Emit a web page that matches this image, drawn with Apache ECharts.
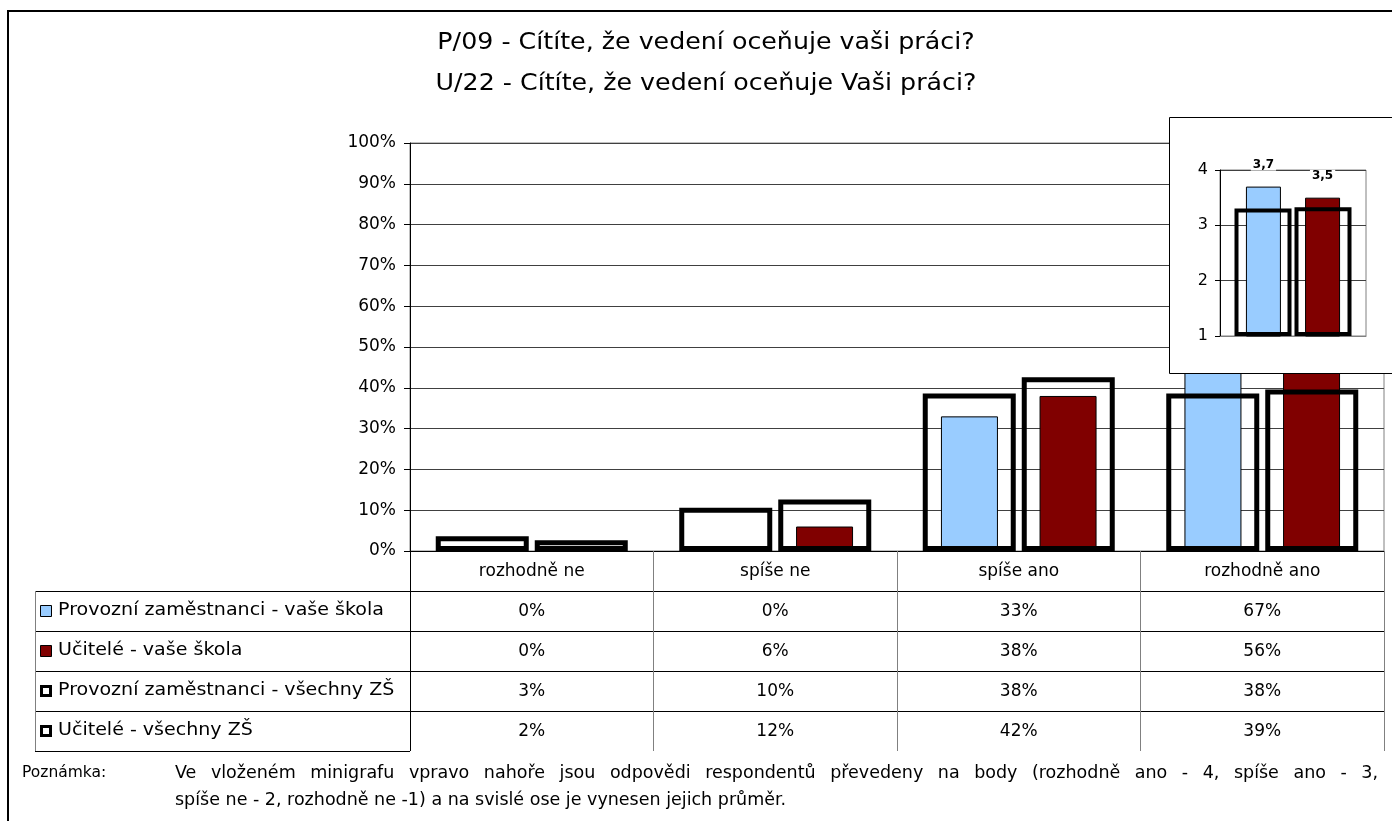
<!DOCTYPE html>
<html><head><meta charset="utf-8">
<script src="https://cdn.jsdelivr.net/npm/echarts@6/dist/echarts.min.js"></script>
<style>html,body{margin:0;padding:0;background:#fff}#c{width:1392px;height:821px}</style>
</head><body><div id="c"></div>
<script>
// ---------- data ----------
const titleLines = ['P/09 - Cítíte, že vedení oceňuje vaši práci?', 'U/22 - Cítíte, že vedení oceňuje Vaši práci?'];
const categories = ['rozhodně ne', 'spíše ne', 'spíše ano', 'rozhodně ano'];
const seriesNames = ['Provozní zaměstnanci - vaše škola', 'Učitelé - vaše škola', 'Provozní zaměstnanci - všechny ZŠ', 'Učitelé - všechny ZŠ'];
const provozniSkola = [0, 0, 33, 67];
const uciteleSkola = [0, 6, 38, 56];
const provozniVsechny = [3, 10, 38, 38];
const uciteleVsechny = [2, 12, 42, 39];
const miniSkola = [3.7, 3.5];
const miniVsechny = [3.27, 3.29];
const noteLabel = 'Poznámka:';
const noteLines = [
  'Ve vloženém minigrafu vpravo nahoře jsou odpovědi respondentů převedeny na body (rozhodně ano - 4, spíše ano - 3,',
  'spíše ne - 2, rozhodně ne -1) a na svislé ose je vynesen jejich průměr.'
];
const tableRows = [provozniSkola, uciteleSkola, provozniVsechny, uciteleVsechny];

// ---------- style / layout ----------
const FONT = 'DejaVu Sans';
const BLUE = '#99CCFF', RED = '#800000';
const G = { left: 410, top: 143, width: 974, height: 408 };
const INSET = { left: 1220, top: 170, width: 146, height: 166 };
const ROW = 40;
const gBottom = G.top + G.height;
const legendLeft = 35;

const chart = echarts.init(document.getElementById('c'), null, { renderer: 'canvas' });

const xAxes = [];
xAxes.push({
  gridIndex: 0, type: 'category', data: categories, position: 'bottom',
  axisLine: { lineStyle: { color: '#000', width: 1 } },
  axisTick: { show: true, interval: 0, length: ROW * 5, lineStyle: { color: '#808080' } },
  axisLabel: { fontFamily: FONT, fontSize: 17, color: '#000', margin: 12, interval: 0 },
  splitLine: { show: false }
});
tableRows.forEach((row, k) => {
  xAxes.push({
    gridIndex: 0, type: 'category', data: categories, position: 'bottom', offset: ROW * (k + 1),
    axisLine: { lineStyle: { color: '#000', width: 1 } },
    axisTick: { show: false },
    axisLabel: { fontFamily: FONT, fontSize: 17, color: '#000', margin: 12, interval: 0,
      formatter: (v, i) => row[i] + '%' },
    splitLine: { show: false }
  });
});
// inset x axis (index 5)
xAxes.push({ gridIndex: 1, type: 'category', data: [''], position: 'bottom', z: 12,
  axisLine: { lineStyle: { color: '#808080' } }, axisTick: { show: false }, axisLabel: { show: false } });

const barLabelFmt = p => String(p.value).replace('.', ',');

// outlined bars ("všechny ZŠ"): rectangle with the stroke centred on the value line
function hollowBar(offsetFrac, widthFrac, lw, yMin) {
  return function (params, api) {
    const ci = api.value(0), v = api.value(1);
    const base = api.coord([ci, yMin]);
    const top = api.coord([ci, v]);
    const band = api.size([1, 0])[0];
    const cx = base[0] + offsetFrac * band;
    const w = widthFrac * band;
    const h = Math.max(0, base[1] - lw / 2 - top[1]);
    return {
      type: 'rect', z2: 10,
      shape: { x: cx - w / 2 + lw / 2, y: top[1], width: w - lw, height: h },
      style: { fill: null, stroke: '#000', lineWidth: lw }
    };
  };
}
const toPairs = arr => arr.map((v, i) => [i, v]);

const series = [
  { name: seriesNames[0], type: 'bar', xAxisIndex: 0, yAxisIndex: 0, data: provozniSkola,
    barWidth: 57, barGap: '73%', z: 2,
    itemStyle: { color: BLUE, borderColor: '#000', borderWidth: 1 } },
  { name: seriesNames[1], type: 'bar', xAxisIndex: 0, yAxisIndex: 0, data: uciteleSkola,
    barWidth: 57, barGap: '73%', z: 2,
    itemStyle: { color: RED, borderColor: '#000', borderWidth: 1 } },
  { name: seriesNames[2], type: 'custom', xAxisIndex: 0, yAxisIndex: 0, data: toPairs(provozniVsechny),
    encode: { x: 0, y: 1 }, z: 3, renderItem: hollowBar(-49.5 / 243.5, 93 / 243.5, 5, 0) },
  { name: seriesNames[3], type: 'custom', xAxisIndex: 0, yAxisIndex: 0, data: toPairs(uciteleVsechny),
    encode: { x: 0, y: 1 }, z: 3, renderItem: hollowBar(49.5 / 243.5, 93 / 243.5, 5, 0) },
  // inset (averages)
  { name: seriesNames[0] + ' (průměr)', type: 'bar', xAxisIndex: 5, yAxisIndex: 1, data: [miniSkola[0]],
    barWidth: 35, barGap: '69%', z: 13,
    itemStyle: { color: BLUE, borderColor: '#000', borderWidth: 1 },
    label: { show: true, position: 'top', distance: 16, formatter: barLabelFmt, fontFamily: FONT,
      fontWeight: 'bold', fontSize: 12, color: '#000', backgroundColor: '#fff', padding: [0, 2] } },
  { name: seriesNames[1] + ' (průměr)', type: 'bar', xAxisIndex: 5, yAxisIndex: 1, data: [miniSkola[1]],
    barWidth: 35, barGap: '69%', z: 13,
    itemStyle: { color: RED, borderColor: '#000', borderWidth: 1 },
    label: { show: true, position: 'top', distance: 16, formatter: barLabelFmt, fontFamily: FONT,
      fontWeight: 'bold', fontSize: 12, color: '#000', backgroundColor: '#fff', padding: [0, 2] } },
  { name: seriesNames[2] + ' (průměr)', type: 'custom', xAxisIndex: 5, yAxisIndex: 1, data: [[0, miniVsechny[0]]],
    encode: { x: 0, y: 1 }, z: 14, renderItem: hollowBar(-30 / 146, 57 / 146, 4, 1) },
  { name: seriesNames[3] + ' (průměr)', type: 'custom', xAxisIndex: 5, yAxisIndex: 1, data: [[0, miniVsechny[1]]],
    encode: { x: 0, y: 1 }, z: 14, renderItem: hollowBar(30 / 146, 57 / 146, 4, 1) }
];

// ---------- graphic: frame, title, legend column, note, inset background ----------
const graphic = [];
graphic.push({ type: 'polyline', z: 1, shape: { points: [[8, 821], [8, 11], [1392, 11]] },
  style: { stroke: '#000', lineWidth: 2, fill: null } });
titleLines.forEach((t, i) => graphic.push({ type: 'text', z: 1, x: 706, y: 43 + i * 41, scaleX: 1.1,
  style: { text: t, x: 0, y: 0, align: 'center', verticalAlign: 'middle',
    font: '23px "' + FONT + '"', fill: '#000' } }));
for (let k = 1; k <= 5; k++) {
  graphic.push({ type: 'line', z: 1, shape: { x1: legendLeft, y1: gBottom + ROW * k + 0.5, x2: G.left, y2: gBottom + ROW * k + 0.5 },
    style: { stroke: '#000', lineWidth: 1 } });
}
graphic.push({ type: 'line', z: 1, shape: { x1: legendLeft + 0.5, y1: gBottom + ROW, x2: legendLeft + 0.5, y2: gBottom + ROW * 5 },
  style: { stroke: '#808080', lineWidth: 1 } });
graphic.push({ type: 'line', z: 1, shape: { x1: G.left + 0.5, y1: gBottom, x2: G.left + 0.5, y2: gBottom + ROW * 5 },
  style: { stroke: '#000', lineWidth: 1 } });
const keyStyles = [
  { fill: BLUE, stroke: '#000', lineWidth: 1 },
  { fill: RED, stroke: '#000', lineWidth: 1 },
  { fill: '#fff', stroke: '#000', lineWidth: 3 },
  { fill: '#fff', stroke: '#000', lineWidth: 3 }
];
seriesNames.forEach((n, i) => {
  const cy = gBottom + ROW * (i + 1) + ROW / 2;
  const ks = keyStyles[i];
  const ins = ks.lineWidth / 2;
  graphic.push({ type: 'rect', z: 1, shape: { x: 40 + ins, y: cy - 6 + ins, width: 12 - ks.lineWidth, height: 12 - ks.lineWidth },
    style: ks });
  graphic.push({ type: 'text', z: 1, x: 58, y: cy, scaleX: 1.12,
    style: { text: n, x: 0, y: 0, verticalAlign: 'middle', font: '17px "' + FONT + '"', fill: '#000' } });
});
graphic.push({ type: 'text', z: 1, style: { text: noteLabel, x: 22, y: 773, verticalAlign: 'middle',
  font: '15.5px "' + FONT + '"', fill: '#000' } });
// note: first line justified between x=175 and x=1378, second line left aligned
const noteFont = '17.5px "' + FONT + '"';
const mctx = document.createElement('canvas').getContext('2d');
mctx.font = noteFont;
(function () {
  const words = noteLines[0].split(' ');
  const widths = words.map(w => mctx.measureText(w).width);
  const total = widths.reduce((a, b) => a + b, 0);
  const gap = (1378 - 175 - total) / (words.length - 1);
  let x = 175;
  words.forEach((w, i) => {
    graphic.push({ type: 'text', z: 1, style: { text: w, x: x, y: 773, verticalAlign: 'middle', font: noteFont, fill: '#000' } });
    x += widths[i] + gap;
  });
})();
graphic.push({ type: 'text', z: 1, style: { text: noteLines[1], x: 175, y: 800, verticalAlign: 'middle', font: noteFont, fill: '#000' } });
// inset background box
graphic.push({ type: 'rect', z: 10, shape: { x: 1169.5, y: 117.5, width: 240, height: 256 },
  style: { fill: '#fff', stroke: '#000', lineWidth: 1 } });

const option = {
  animation: false,
  backgroundColor: '#fff',
  textStyle: { fontFamily: FONT },
  grid: [
    { left: G.left, top: G.top, width: G.width, height: G.height, show: true, borderColor: '#808080', borderWidth: 1, z: 0 },
    { left: INSET.left, top: INSET.top, width: INSET.width, height: INSET.height, show: true, borderColor: '#808080', borderWidth: 1, backgroundColor: '#fff', z: 11 }
  ],
  xAxis: xAxes,
  yAxis: [
    { gridIndex: 0, type: 'value', min: 0, max: 100, interval: 10,
      axisLine: { show: true, lineStyle: { color: '#000' } },
      axisTick: { show: true, length: 6, lineStyle: { color: '#000' } },
      splitLine: { lineStyle: { color: '#404040', width: 1 } },
      axisLabel: { formatter: '{value}%', fontFamily: FONT, fontSize: 17, color: '#000', margin: 14 } },
    { gridIndex: 1, type: 'value', min: 1, max: 4, interval: 1, z: 12,
      axisLine: { show: true, lineStyle: { color: '#000' } },
      axisTick: { show: true, length: 5, lineStyle: { color: '#000' } },
      splitLine: { lineStyle: { color: '#404040', width: 1 } },
      axisLabel: { fontFamily: FONT, fontSize: 16, color: '#000', margin: 12 } }
  ],
  series: series,
  graphic: graphic
};
chart.setOption(option);
</script>
</body></html>
